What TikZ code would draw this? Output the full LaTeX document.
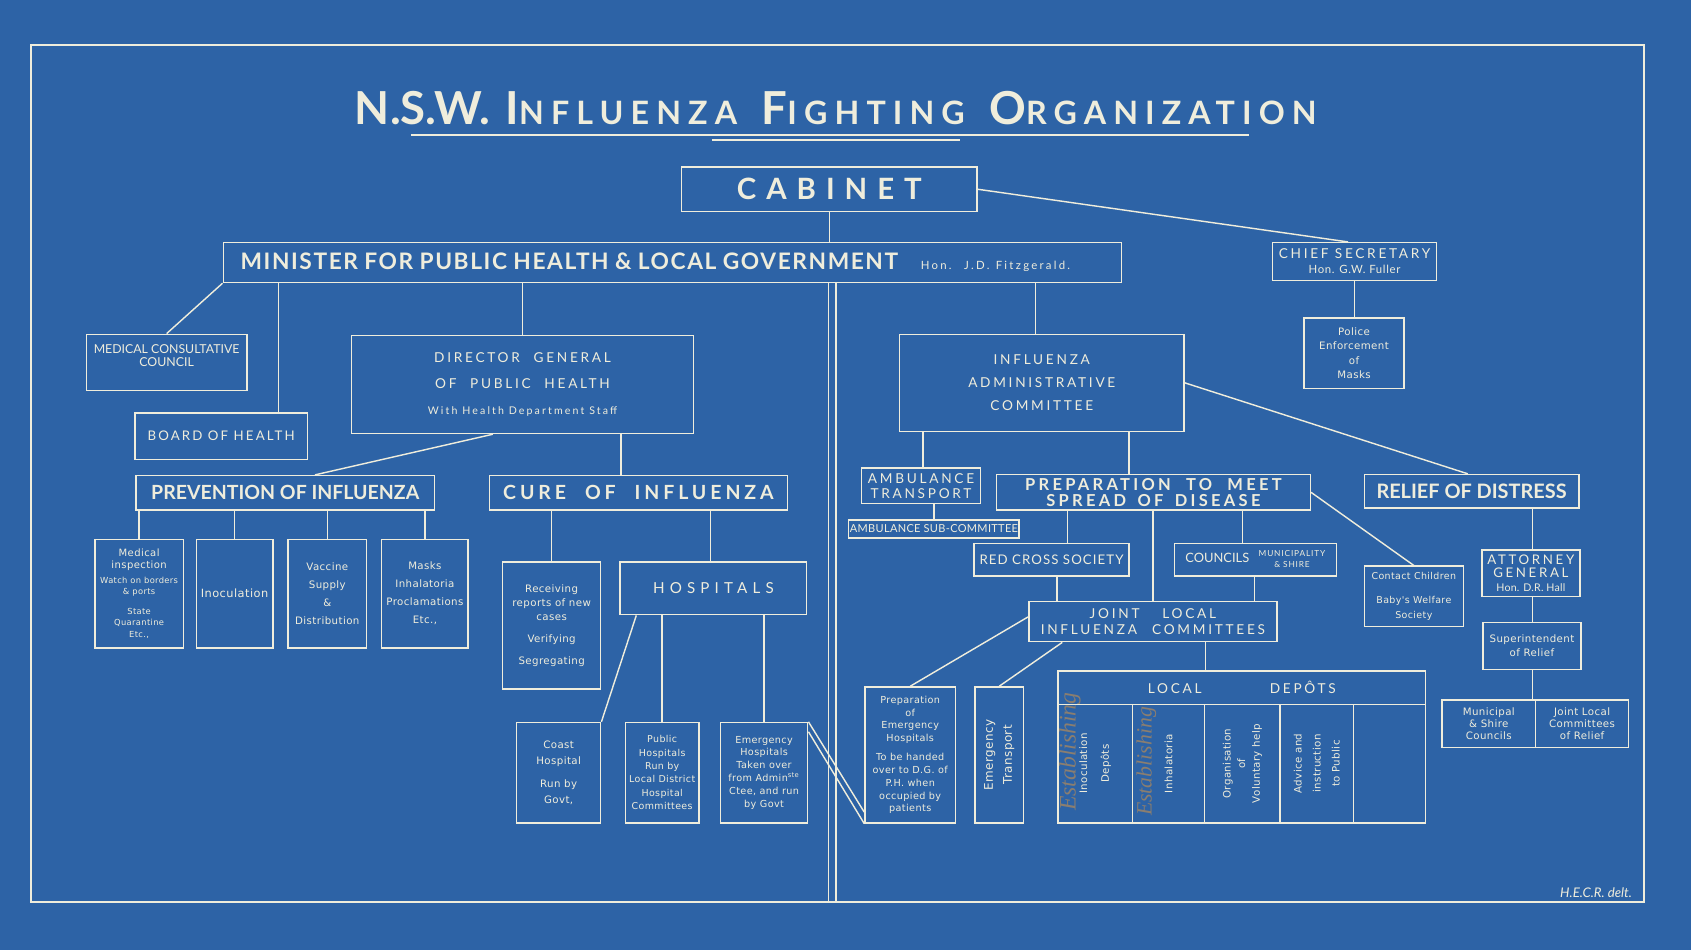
\documentclass[tikz,border=0pt]{standalone}
\usepackage{fontspec}
\setmainfont{Lato}
\newfontfamily\spaced[LetterSpace=20]{Lato}
\newfontfamily\titlefont[LetterSpace=22]{Lato}
\newfontfamily\smallfont[LetterSpace=4]{DejaVu Sans}
\newfontfamily\handfont{Liberation Serif}
\definecolor{paper}{HTML}{2D63A6}
\definecolor{ink}{HTML}{EFEDDC}
\definecolor{pencil}{HTML}{8A7E70}
\newcommand{\fsz}[2]{\fontsize{#1}{#2}\selectfont}
\newcommand{\tcap}[1]{{\fsz{24}{24}#1}}

\begin{document}
\begin{tikzpicture}
        [x=0.02cm, y=-0.02cm,
        line/.style={draw=ink, line width=0.75pt},
        box/.style={draw=ink, line width=0.75pt, text=ink, align=center, inner sep=0pt},
        sz/.style 2 args={minimum width=#1*0.02cm, minimum height=#2*0.02cm},
        small/.style={font=\smallfont\fsz{5.4}{#1}}, small/.default=7.4,
        med/.style={font=\spaced\fsz{7.2}{#1}}, med/.default=12,
        head/.style={font=\bfseries\fsz{10.3}{12}}]
        \fill[paper] (0,0) rectangle (1568,881);
        \useasboundingbox (0,0) rectangle (1568,881);
        \node[box, line width=1pt, sz={1495}{794}] (frame) at (776.5,439) {};
        \node[text=ink, font=\titlefont\bfseries\fsz{17}{20}] (title) at (775,100)
            {\tcap{\addfontfeatures{LetterSpace=0}N.S.W.}\hspace{8pt}\tcap{I}NFLUENZA\hspace{13pt}\tcap{F}IGHTING\hspace{13pt}\tcap{O}RGANIZATION};
        \draw[line] (381,125) -- (1158,125);
        \draw[line] (660,130) -- (890,130);

        % top level
        \node[box, sz={274}{41}, font=\spaced\bfseries\fsz{15.5}{16}\addfontfeatures{LetterSpace=34}] (cab) at (769,175.5) {CABINET};
        \node[box, sz={833}{37}, text width=16.02cm, inner xsep=0.32cm, align=left] (mini) at (623.5,243.5)
            {{\bfseries\fsz{12}{14}\addfontfeatures{LetterSpace=7}MINISTER FOR PUBLIC HEALTH \& LOCAL GOVERNMENT}\hspace{12pt}{\spaced\fsz{6}{7}Hon.\ \ J.D. Fitzgerald.}};
        \node[box, sz={152}{35}, med=8] (chief) at (1256,242.5) {CHIEF SECRETARY\\{\fsz{6}{8}\addfontfeatures{LetterSpace=6}Hon. G.W. Fuller}};
        \node[box, sz={93}{65}, small] (police) at (1255.5,327.5) {Police\\Enforcement\\of\\Masks};

        % left branch
        \node[box, sz={149}{52}, font=\fsz{6.5}{6.8}] (mcc) at (154.5,336) {MEDICAL CONSULTATIVE\\COUNCIL\\ \mbox{}};
        \node[box, sz={160}{43}, font=\spaced\fsz{7}{8}\addfontfeatures{LetterSpace=16}] (boh) at (205,404.5) {BOARD OF HEALTH};
        \node[box, sz={317}{91}, med=13.6] (dg) at (484.5,356.5)
            {DIRECTOR\quad GENERAL\\OF\quad PUBLIC\quad HEALTH\\{\fsz{5.6}{13.6}With Health Department Staff}};
        \node[box, sz={277}{32}, head] (prev) at (264.5,457) {PREVENTION OF INFLUENZA};
        \node[box, sz={82}{101}, font=\smallfont\fsz{4.4}{6.2}] (insp) at (129,550.5)
            {{\fsz{5.3}{6.2}Medical}\\{\fsz{5.3}{6.2}inspection}\\[1.7pt]Watch on borders\\\& ports\\[4pt]State\\Quarantine\\Etc.,};
        \node[box, sz={71}{101}, font=\smallfont\fsz{6}{7}] (inoc) at (217.5,550.5) {Inoculation};
        \node[box, sz={73}{101}, small=9.5] (vacc) at (303.5,550.5) {Vaccine\\Supply\\\&\\Distribution};
        \node[box, sz={80}{101}, small=9.5] (mask) at (394,550.5) {Masks\\Inhalatoria\\Proclamations\\Etc.,};
        \node[box, sz={276}{32}, font=\spaced\bfseries\fsz{10.3}{12}] (cure) at (592,457) {CURE\hspace{10pt}OF\hspace{10pt}INFLUENZA};
        \node[box, sz={91}{118}, small] (recv) at (511.5,580)
            {Receiving\\reports of new\\cases\\[4.5pt]Verifying\\[4pt]Segregating};
        \node[box, sz={173}{49}, font=\spaced\fsz{8}{9}\addfontfeatures{LetterSpace=34}] (hosp) at (661.5,545.5) {HOSPITALS};
        \node[box, sz={78}{93}, small=8.5] (coast) at (518,716.5) {Coast\\Hospital\\[3.5pt]Run by\\Govt,};
        \node[box, sz={68}{93}, font=\smallfont\fsz{5}{7.1}] (pubh) at (614,716.5) {Public\\Hospitals\\Run by\\Local District\\Hospital\\Committees};
        \node[box, sz={81}{93}, font=\smallfont\fsz{5.1}{6.8}] (emh) at (708.5,716.5)
            {Emergency\\Hospitals\\Taken over\\from Admin\textsuperscript{ste}\\Ctee, and run\\by Govt};

        % right branch
        \node[box, sz={264}{90}, med] (iac) at (966,355) {INFLUENZA\\ADMINISTRATIVE\\COMMITTEE};
        \node[box, sz={110}{33}, med=8] (amb) at (854,450.5) {AMBULANCE\\TRANSPORT};
        \node[box, sz={158}{17}, font=\spaced\fsz{5.8}{7}\addfontfeatures{LetterSpace=3}] (ambsub) at (866,490.5) {AMBULANCE SUB-COMMITTEE};
        \node[box, sz={291}{33}, font=\spaced\bfseries\fsz{8.7}{8.5}] (prep) at (1069.5,456.5)
            {PREPARATION\hspace{8pt}TO\hspace{8pt}MEET\\SPREAD\hspace{6pt}OF\hspace{6pt}DISEASE};
        \node[box, sz={144}{30}, font=\spaced\fsz{7}{8}\addfontfeatures{LetterSpace=8}] (redx) at (975,519) {RED CROSS SOCIETY};
        \node[box, sz={150}{30}, font=\fsz{6.8}{8}] (cncl) at (1164,519)
            {COUNCILS\hspace{5pt}{\fsz{4.4}{5.5}\addfontfeatures{LetterSpace=10}\begin{tabular}{@{}c@{}}MUNICIPALITY\\\& SHIRE\end{tabular}}};
        \node[box, sz={230}{37}, med=8.5] (jlic) at (1069,576.5) {JOINT\hspace{12pt}LOCAL\\INFLUENZA\hspace{8pt}COMMITTEES};
        \node[box, sz={84}{126}, font=\smallfont\fsz{5.1}{6.8}] (peh) at (844,700)
            {Preparation\\of\\Emergency\\Hospitals\\[3pt]To be handed\\over to D.G. of\\P.H. when\\occupied by\\patients};
        \node[box, rotate=90, sz={126}{45}, font=\smallfont\fsz{6.3}{10}] (etr) at (926.5,700) {Emergency\\Transport};
        \node[box, sz={341}{31}, med] (ldep) at (1151.5,637.5) {LOCAL\hspace{36pt}DEPÔTS};
        \node[box, rotate=90, sz={110}{69}, small] (col1) at (1015.5,708) {Inoculation\\[4pt]Depôts};
        \node[box, rotate=90, sz={110}{67}, small] (col2) at (1083.5,708) {Inhalatoria};
        \node[box, rotate=90, sz={110}{70}, small=7.7] (col3) at (1152,708) {Organisation\\of\\Voluntary help};
        \node[box, rotate=90, sz={110}{68}, small=10] (col4) at (1221,708) {Advice and\\instruction\\to Public};
        \node[box, rotate=90, sz={110}{67}] (col5) at (1288.5,708) {};
        \node[text=pencil, rotate=90, font=\handfont\itshape\fsz{12.5}{12}] (est1) at (992,697) {Establishing};
        \node[text=pencil, rotate=90, font=\handfont\itshape\fsz{11.5}{12}] (est2) at (1063,706) {Establishing};
        \node[box, sz={92}{56}, font=\smallfont\fsz{5}{8}] (contact) at (1311,553) {Contact Children\\[5pt]Baby's Welfare\\Society};
        \node[box, sz={199}{31}, font=\bfseries\fsz{10.5}{12}] (relief) at (1364.5,455.5) {RELIEF OF DISTRESS};
        \node[box, sz={91}{43}, font=\spaced\fsz{7}{7}] (atty) at (1419.5,531.5)
            {ATTORNEY\\GENERAL\\{\fsz{5.6}{7}\addfontfeatures{LetterSpace=2}Hon. D.R. Hall}};
        \node[box, sz={91}{44}, small] (supt) at (1420.5,599) {Superintendent\\of Relief};
        \node[box, sz={87}{44}, small=6.3] (mun) at (1380.5,671) {Municipal\\\& Shire\\Councils};
        \node[box, sz={86}{44}, small=6.3] (jlr) at (1467,671) {Joint Local\\Committees\\of Relief};
        \node[text=ink, font=\itshape\fsz{7}{8}] (sig) at (1480,828) {H.E.C.R. delt.};

        % connectors
        \draw[line] (cab.south) -- (cab.south |- mini.north);
        \draw[line] (cab.east) -- (chief.north -| 1250,0);
        \draw[line] (chief.south) -- (police.north -| chief.south);
        \draw[line] (mini.south west) -- (mcc.north);
        \draw[line] (mini.south -| 258,0) -- (boh.north -| 258,0);
        \draw[line] (mini.south -| dg.north) -- (dg.north);
        \draw[line] (mini.south -| 960,0) -- (iac.north -| 960,0);
        \draw[line] (mini.south -| 768,0) -- (frame.south -| 768,0);
        \draw[line] (mini.south -| 775,0) -- (frame.south -| 775,0);
        \draw[line] (dg.south -| 457,0) -- (prev.north -| 292,0);
        \draw[line] (dg.south -| 576,0) -- (cure.north -| 576,0);
        \foreach \n in {insp,inoc,vacc,mask}
            \draw[line] (prev.south -| \n.north) -- (\n.north);
        \draw[line] (cure.south -| recv.north) -- (recv.north);
        \draw[line] (cure.south -| 659,0) -- (hosp.north -| 659,0);
        \draw[line] (hosp.south -| 590,0) -- (coast.north east);
        \draw[line] (hosp.south -| pubh.north) -- (pubh.north);
        \draw[line] (hosp.south -| emh.north) -- (emh.north);
        \draw[line] (emh.north east) -- (peh.west |- 0,753);
        \draw[line] (emh.east |- 0,678.5) -- (peh.south west);
        \draw[line] (iac.south -| 856,0) -- (amb.north -| 856,0);
        \draw[line] (iac.south -| 1047,0) -- (prep.north -| 1047,0);
        \draw[line] (iac.east) -- (relief.north -| 1361,0);
        \draw[line] (amb.south -| ambsub.north) -- (ambsub.north);
        \draw[line] (prep.south -| 990,0) -- (redx.north -| 990,0);
        \draw[line] (prep.south -| 1069,0) -- (jlic.north -| 1069,0);
        \draw[line] (prep.south -| 1152,0) -- (cncl.north -| 1152,0);
        \draw[line] (prep.east) -- (contact.north);
        \draw[line] (redx.south -| 980,0) -- (jlic.north -| 980,0);
        \draw[line] (cncl.south -| 1163,0) -- (jlic.north -| 1163,0);
        \draw[line] (jlic.west |- 0,572) -- (peh.north);
        \draw[line] (jlic.south -| 985,0) -- (etr.east);
        \draw[line] (jlic.south -| 1118,0) -- (ldep.north -| 1118,0);
        \draw[line] (relief.south -| 1421,0) -- (atty.north -| 1421,0);
        \draw[line] (atty.south -| 1421,0) -- (supt.north -| 1421,0);
        \draw[line] (supt.south -| 1421,0) -- (mun.north -| 1421,0);
    
    \end{tikzpicture}
\end{document}
